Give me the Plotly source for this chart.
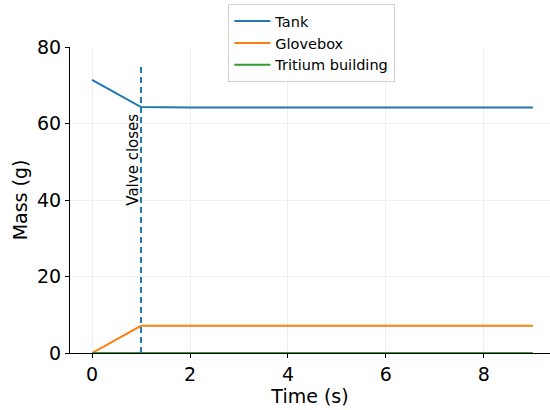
import plotly.graph_objects as go

time_s = [0, 1, 2, 3, 4, 5, 6, 7, 8, 9]
tank_g = [71.4, 64.3, 64.2, 64.2, 64.2, 64.2, 64.2, 64.2, 64.2, 64.2]
glovebox_g = [0.0, 7.1, 7.1, 7.1, 7.1, 7.1, 7.1, 7.1, 7.1, 7.1]
tritium_building_g = [0, 0, 0, 0, 0, 0, 0, 0, 0, 0]
valve_time = 1
valve_line_top = 75
valve_label_y = 38

FONT = "DejaVu Sans"
fig = go.Figure()
fig.add_trace(go.Scatter(x=time_s, y=tank_g, mode="lines", name="Tank",
                         line=dict(color="#1f77b4", width=2)))
fig.add_trace(go.Scatter(x=time_s, y=glovebox_g, mode="lines", name="Glovebox",
                         line=dict(color="#ff7f0e", width=2)))
fig.add_trace(go.Scatter(x=time_s, y=tritium_building_g, mode="lines", name="Tritium building",
                         line=dict(color="#2ca02c", width=2)))
fig.add_trace(go.Scatter(x=[valve_time, valve_time], y=[0, valve_line_top], mode="lines",
                         showlegend=False, line=dict(color="#1f77b4", width=2, dash="6px,4px")))

fig.add_annotation(x=valve_time, y=valve_label_y, text="Valve closes", showarrow=False,
                   textangle=-90, xanchor="right", yanchor="bottom", xshift=3,
                   font=dict(family=FONT, size=15, color="black"))

fig.update_layout(
    width=550, height=410,
    margin=dict(l=70, r=0, t=47, b=57, autoexpand=False),
    paper_bgcolor="white", plot_bgcolor="white",
    font=dict(family=FONT, color="black"),
    legend=dict(x=0.567, xref="container", y=0.99, yref="container",
                xanchor="center", yanchor="top",
                bgcolor="white", bordercolor="#d0d0d0", borderwidth=1,
                font=dict(family=FONT, size=14.5), itemwidth=36, tracegroupgap=0),
)
fig.update_xaxes(range=[-0.45, 9.35], tickvals=[0, 2, 4, 6, 8],
                 showline=True, linecolor="black", linewidth=1.2,
                 ticks="outside", ticklen=4, tickcolor="black",
                 showgrid=True, gridcolor="#efefef", gridwidth=1, zeroline=False,
                 tickfont=dict(family=FONT, size=19),
                 title=dict(text="Time (s)", font=dict(family=FONT, size=19), standoff=4))
fig.update_yaxes(range=[0, 80], tickvals=[0, 20, 40, 60, 80],
                 showline=True, linecolor="black", linewidth=1.2,
                 ticks="outside", ticklen=4, tickcolor="black",
                 showgrid=True, gridcolor="#efefef", gridwidth=1, zeroline=False,
                 tickfont=dict(family=FONT, size=19),
                 title=dict(text="Mass (g)", font=dict(family=FONT, size=19), standoff=4))

fig.write_html("out.html", config={"displayModeBar": False},
               post_script="document.body.style.margin='0';document.body.style.overflow='hidden';")
